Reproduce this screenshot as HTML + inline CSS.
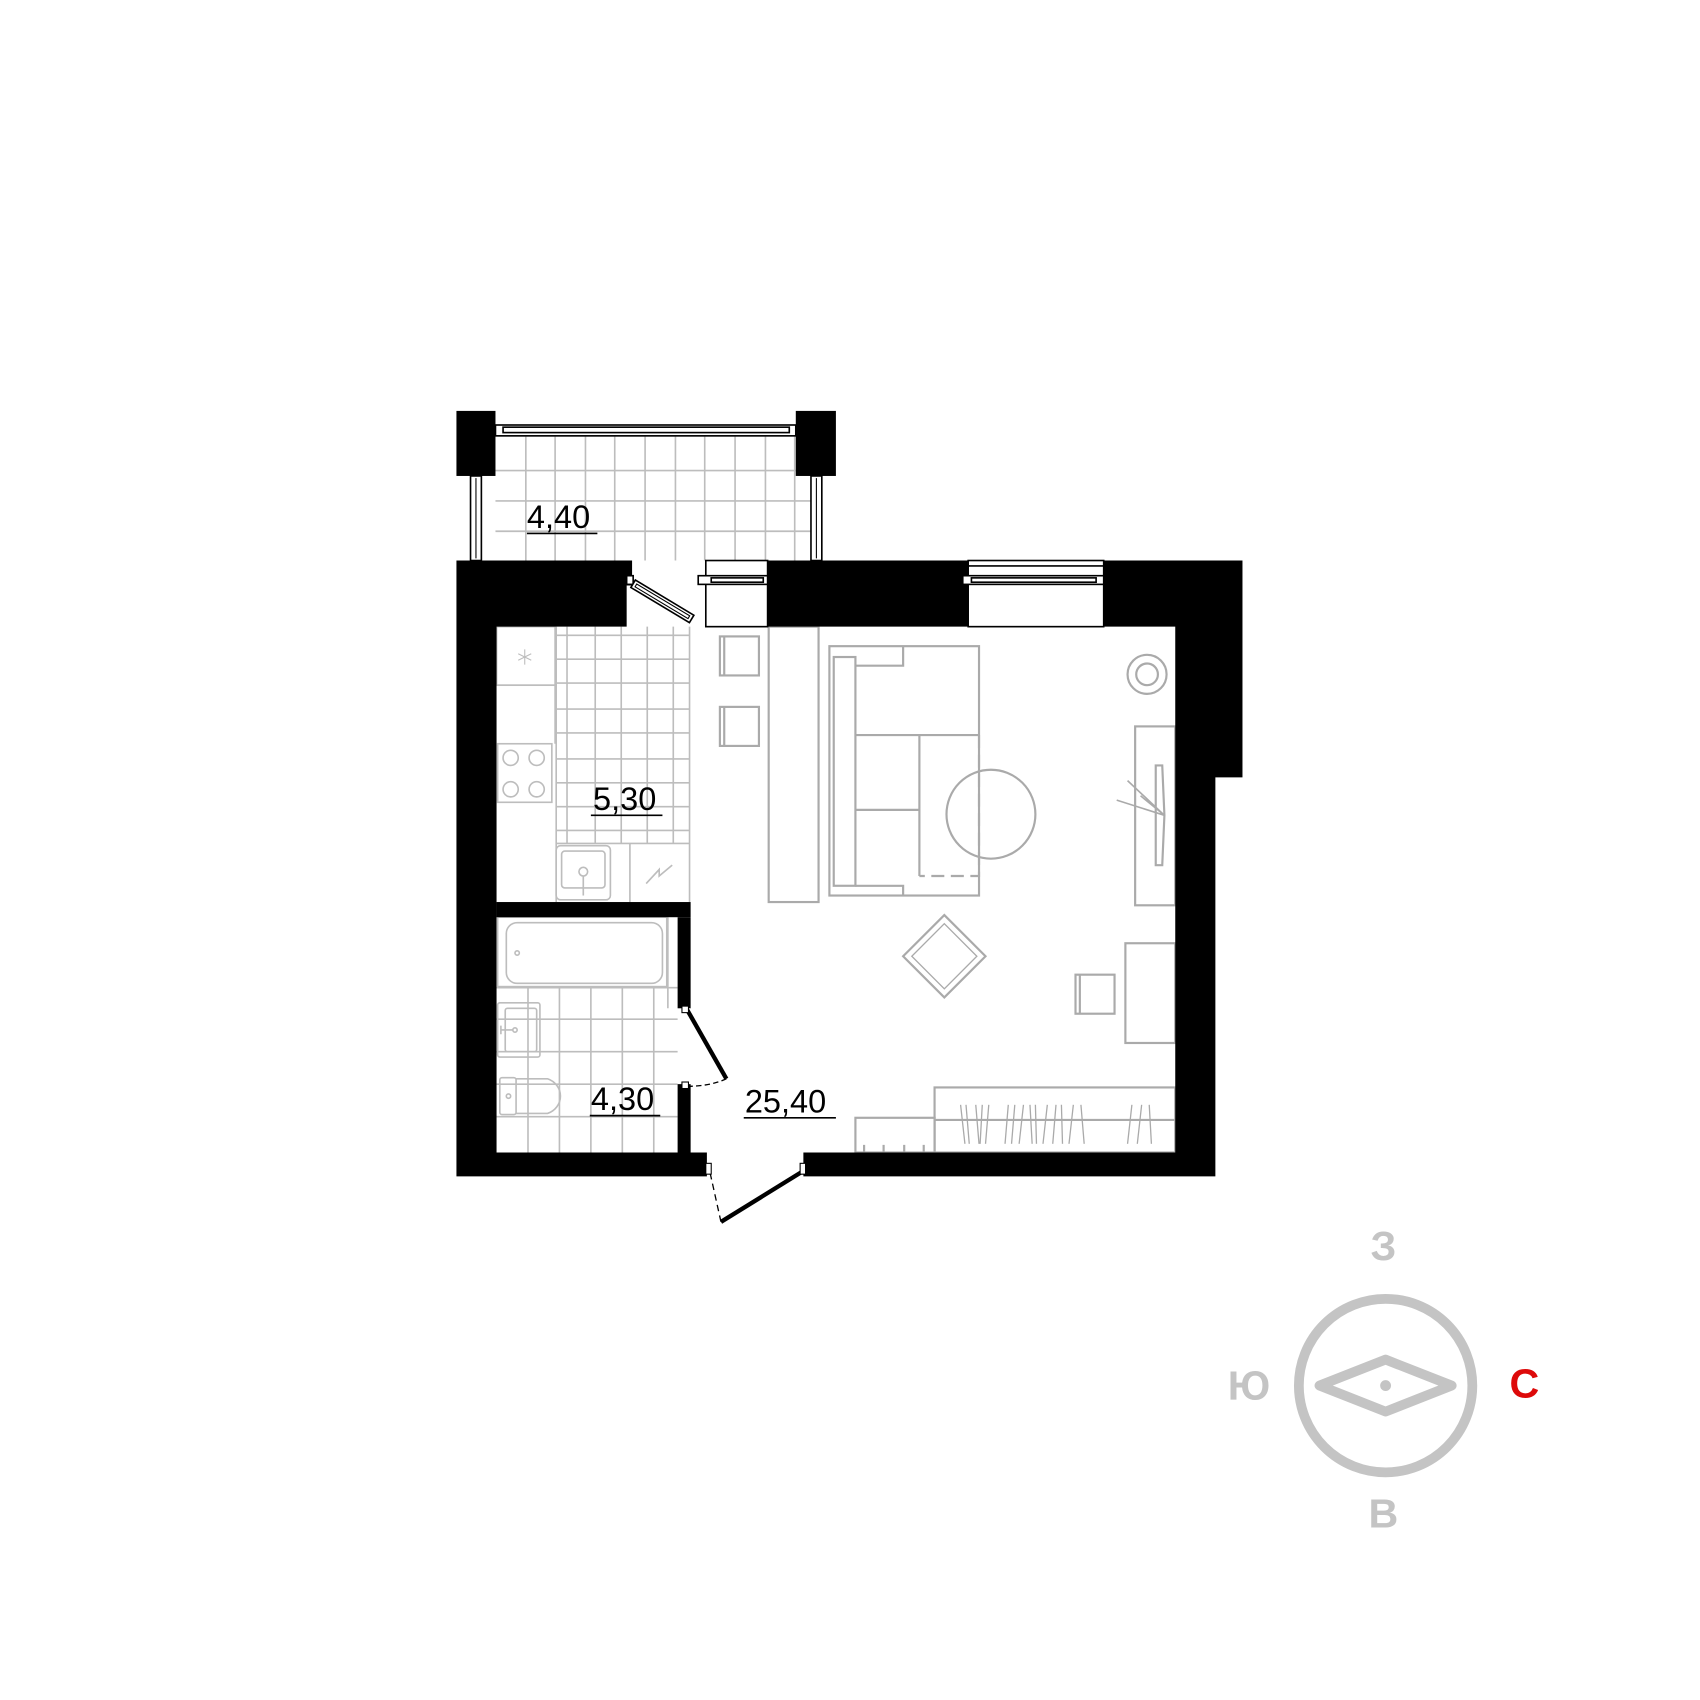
<!DOCTYPE html>
<html><head><meta charset="utf-8"><style>html,body{margin:0;padding:0;background:#fff}svg{display:block}</style></head>
<body>
<svg width="1700" height="1700" viewBox="0 0 1568 1568" xmlns="http://www.w3.org/2000/svg" font-family="Liberation Sans, DejaVu Sans, sans-serif">
<rect width="1568" height="1568" fill="#fff"/>
<g stroke="#bdbdbd" stroke-width="1.5" fill="none">
<path d="M457 434H748M457 462H748M457 490H748"/>
<path d="M485 402V517M512 402V517M540 402V517M567 402V517M595 402V517M623 402V517M650 402V517M678 402V517M706 402V517M733 402V517"/>
<path d="M445 402H748"/>
</g>
<rect x="421" y="379" width="36" height="60" fill="#000"/>
<rect x="734" y="379" width="37" height="60" fill="#000"/>
<g fill="#fff" stroke="#000" stroke-width="1.5">
<rect x="457" y="392" width="277" height="10"/>
<rect x="464" y="394" width="264" height="5"/>
<rect x="434" y="439" width="10" height="78"/>
<rect x="748" y="439" width="10" height="78"/>
</g>
<path d="M439 441V515M753 441V515" stroke="#000" stroke-width="1"/>
<g stroke="#bdbdbd" stroke-width="1.5" fill="none">
<path d="M513 586H636M513 608H636M513 630H636M513 654H636M513 676H636M513 700H636M513 722H636M513 744H636M513 766H636"/>
<path d="M523 578V778M549 578V778M573 578V778M597 578V778M621 578V778M636 578V832"/>
<path d="M513 578V778H636M513 778V832M581 778V832"/>
<rect x="458" y="578" width="54" height="54"/>
<path d="M458 632H512V686"/>
<rect x="459" y="686" width="50" height="54"/>
<circle cx="471" cy="699" r="7"/><circle cx="495" cy="699" r="7"/><circle cx="471" cy="728" r="7"/><circle cx="495" cy="728" r="7"/>
<rect x="513" y="780" width="50" height="50" rx="4"/><rect x="518" y="785" width="40" height="34" rx="3"/>
<circle cx="538" cy="804" r="4"/><path d="M538 808V826"/>
<path d="M596 815L608 802L608 808L620 798"/>
<path d="M478 603L490 609M478 609L490 603M484 599V613" stroke-width="1"/>
</g>
<g stroke="#bdbdbd" stroke-width="1.5" fill="none">
<path d="M458 911H625M458 940H625M458 970H625M458 1000H625M458 1030H625"/>
<path d="M487 911V1063M516 911V1063M545 911V1063M574 911V1063M603 911V1063M616 846V930"/>
<rect x="459" y="846" width="156" height="64"/>
<rect x="467" y="851" width="144" height="56" rx="10"/>
<circle cx="477" cy="879" r="2"/>
<rect x="459" y="925" width="39" height="50" rx="2"/><rect x="466" y="930" width="29" height="40" rx="2"/>
<circle cx="475" cy="950" r="2"/><path d="M462 946V954M462 950H473"/>
<rect x="461" y="994" width="15" height="34" rx="2"/>
<path d="M476 995H505A18 17 0 0 1 505 1027H476"/>
<circle cx="469" cy="1011" r="2"/>
</g>
<g stroke="#aaaaaa" stroke-width="2" fill="none">
<rect x="664" y="587" width="36" height="36"/><path d="M668 587V623"/>
<rect x="664" y="652" width="36" height="36"/><path d="M668 652V688"/>
<rect x="709" y="578" width="46" height="254"/>
<rect x="765" y="596" width="138" height="230"/>
<rect x="769" y="606" width="20" height="211"/>
<path d="M789 614H833V596M789 817H833V826M789 678H903M848 678V808M789 747H848"/>
<path d="M903 678V808H848" stroke-dasharray="12 6"/>
<circle cx="914" cy="751" r="41"/>
<circle cx="1058" cy="622" r="18"/><circle cx="1058" cy="622" r="10"/>
<rect x="1047" y="670" width="37" height="165"/>
<path d="M1066 706H1072L1074 752L1072 798H1066Z"/>
<path d="M1040 720L1074 752M1030 738L1074 752M1052 734L1074 752" stroke-width="1.5"/>
<rect x="1038" y="870" width="46" height="92"/>
<rect x="992" y="899" width="36" height="36"/><path d="M996 899V935"/>
<path d="M871 844L909 882L871 920L833 882Z"/>
<path d="M871 852L901 882L871 912L841 882Z" stroke-width="1.2"/>
<rect x="862" y="1003" width="222" height="60"/>
<path d="M862 1033H1084"/>
<rect x="789" y="1031" width="73" height="32"/>
<path d="M797 1056V1063M815 1056V1063M834 1056V1063M852 1056V1063"/>
<path d="M886 1019L890 1055M891 1019L894 1055M900 1019L903 1055M906 1019L904 1055M912 1019L909 1055M930 1019L927 1055M936 1019L933 1055M944 1019L940 1055M950 1019L952 1055M955 1019L956 1055M966 1019L962 1055M974 1019L971 1055M979 1019L980 1055M990 1019L986 1055M997 1019L1000 1055M1044 1019L1040 1055M1053 1019L1049 1055M1060 1019L1062 1055" stroke-width="1.2"/>
</g>
<g fill="#000">
<path d="M421 517H583V540H578V578H458V1063H625V1000H637V1063H652V1085H421Z"/>
<path d="M708 517H893V578H708Z"/>
<path d="M1018 517H1146V717H1121V1085H741V1063H1084V578H1018Z"/>
<rect x="458" y="832" width="179" height="14"/>
<rect x="625" y="846" width="12" height="84"/>
</g>
<g fill="#fff" stroke="#000" stroke-width="1.5">
<rect x="651" y="517" width="57" height="61"/>
<rect x="644" y="531" width="64" height="8"/>
<rect x="656" y="533" width="48" height="4"/>
<rect x="893" y="517" width="125" height="61"/>
<rect x="888" y="531" width="130" height="8"/>
<rect x="896" y="533" width="115" height="4"/>
<path d="M893 522H1018"/>
</g>
<rect x="578" y="531" width="6" height="8" fill="#fff" stroke="#000" stroke-width="1.5"/>
<g transform="translate(586 535) rotate(31)">
<rect x="0" y="0" width="63" height="8" fill="#fff" stroke="#000" stroke-width="1.5"/>
<rect x="3" y="2.5" width="57" height="3" fill="none" stroke="#000" stroke-width="1"/>
</g>
<path d="M633 930L670 995" stroke="#000" stroke-width="4"/>
<path d="M670 995Q655 1002 633 1002" stroke="#000" stroke-width="1.2" fill="none" stroke-dasharray="5 3"/>
<rect x="629" y="928" width="6" height="6" fill="#fff" stroke="#000" stroke-width="1"/>
<rect x="629" y="998" width="6" height="6" fill="#fff" stroke="#000" stroke-width="1"/>
<path d="M741 1080L665 1127" stroke="#000" stroke-width="4"/>
<path d="M655 1082L665 1127" stroke="#000" stroke-width="1.2" fill="none" stroke-dasharray="6 4"/>
<rect x="651" y="1073" width="5" height="10" fill="#fff" stroke="#000" stroke-width="1"/>
<rect x="738" y="1073" width="5" height="10" fill="#fff" stroke="#000" stroke-width="1"/>
<g font-size="30" fill="#000">
<text x="486" y="487">4,40</text><path d="M486 492H551" stroke="#000" stroke-width="1.5"/>
<text x="547" y="747">5,30</text><path d="M545 752H611" stroke="#000" stroke-width="1.5"/>
<text x="545" y="1024">4,30</text><path d="M544 1029H609" stroke="#000" stroke-width="1.5"/>
<text x="687" y="1026">25,40</text><path d="M686 1031H771" stroke="#000" stroke-width="1.5"/>
</g>
<circle cx="1278" cy="1278" r="80" fill="none" stroke="#c4c4c4" stroke-width="9"/>
<path d="M1217 1278L1278 1254L1339 1278L1278 1302Z" fill="none" stroke="#c4c4c4" stroke-width="9" stroke-linejoin="round"/>
<circle cx="1278" cy="1278" r="5" fill="#c4c4c4"/>
<g font-size="38" font-weight="bold" fill="#c4c4c4" text-anchor="middle">
<text x="1276" y="1162">З</text>
<text x="1152" y="1291">Ю</text>
<text x="1276" y="1409">В</text>
<text x="1406" y="1289" fill="#dd0a0a">С</text>
</g>
</svg>
</body></html>
